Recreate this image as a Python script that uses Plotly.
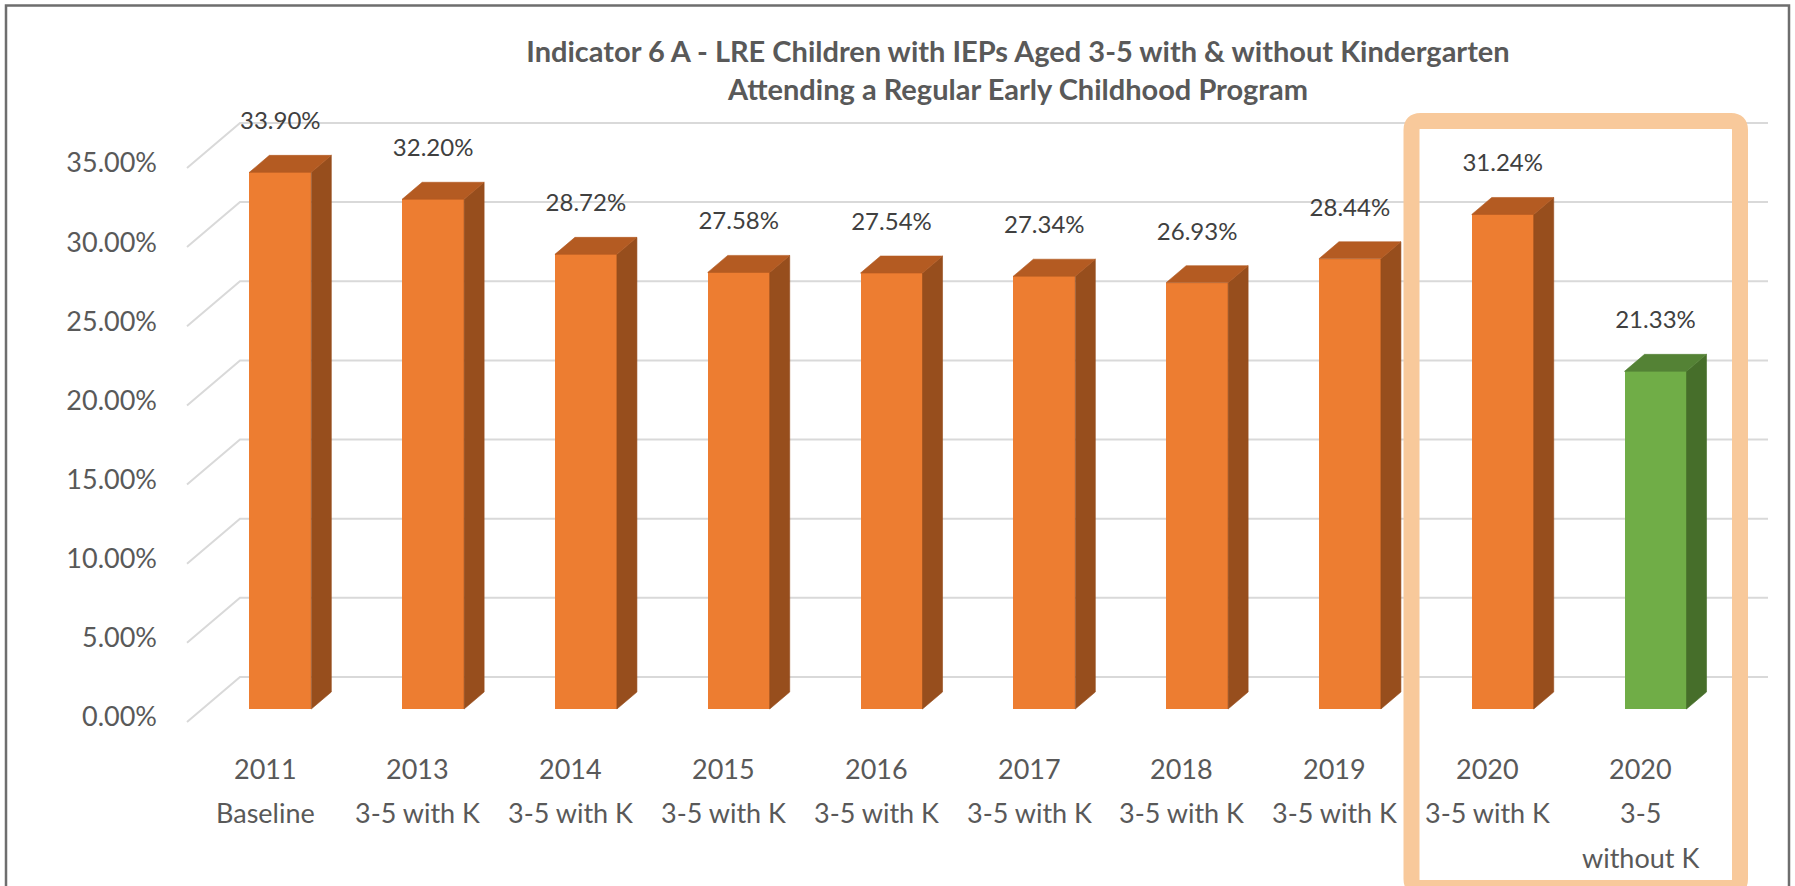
import plotly.graph_objects as go

# ---------------- data ----------------
categories = [
    "2011\nBaseline",
    "2013\n3-5 with K",
    "2014\n3-5 with K",
    "2015\n3-5 with K",
    "2016\n3-5 with K",
    "2017\n3-5 with K",
    "2018\n3-5 with K",
    "2019\n3-5 with K",
    "2020\n3-5 with K",
    "2020\n3-5\nwithout K",
]
values = [33.90, 32.20, 28.72, 27.58, 27.54, 27.34, 26.93, 28.44, 31.24, 21.33]
groups = ["with K"] * 9 + ["without K"]
y_ticks = [0, 5, 10, 15, 20, 25, 30, 35]
y_tick_labels = ["0.00%", "5.00%", "10.00%", "15.00%", "20.00%", "25.00%", "30.00%", "35.00%"]
value_labels = [f"{v:.2f}%" for v in values]
title_text = ("Indicator 6 A - LRE Children with IEPs Aged 3-5 with & without Kindergarten"
              "<br>Attending a Regular Early Childhood Program")

# ---------------- styling / layout constants ----------------
W, H = 1795, 886
ML = 175
CAT_PX = 152.8      # pixels per category
PCT_PX = 15.83      # pixels per percentage point
X0_PX = 265.0       # pixel x of first category at front floor edge
Y0_PX = 722.0       # pixel y of 0% at front floor edge

FACE = {"with K": "#ED7D31", "without K": "#70AD47"}
TOP = {"with K": "#B45B22", "without K": "#548235"}
SIDE = {"with K": "#974E1D", "without K": "#466E2A"}
TEXT = "#595959"
FONT = "Lato"

x_range = [(ML - X0_PX) / CAT_PX, (W - X0_PX) / CAT_PX]
y_range = [-(H - Y0_PX) / PCT_PX, Y0_PX / PCT_PX]


def px_x(px):
    return (px - X0_PX) / CAT_PX


def px_y(py):
    return (Y0_PX - py) / PCT_PX


def paper_x(px):
    return (px - ML) / (W - ML)


def paper_y(py):
    return 1 - py / H


# oblique depth (full floor depth) in data units
DDX = 53 / CAT_PX
DDY = 45 / PCT_PX
F1, F2 = 13 / 45, 30 / 45        # bar front / back depth fractions
HW = 31 / CAT_PX                 # half bar width
LABEL_OFF = 49 / PCT_PX

fig = go.Figure()

# ---- side and top faces ----
for g in ["with K", "without K"]:
    sx, sy, tx, ty = [], [], [], []
    for i, (v, gg) in enumerate(zip(values, groups)):
        if gg != g:
            continue
        xc = i + F1 * DDX
        xl, xr = xc - HW, xc + HW
        yb = F1 * DDY
        yt = yb + v
        ddx, ddy = (F2 - F1) * DDX, (F2 - F1) * DDY
        sx += [xr, xr + ddx, xr + ddx, xr, xr, None]
        sy += [yb, yb + ddy, yt + ddy, yt, yb, None]
        tx += [xl, xr, xr + ddx, xl + ddx, xl, None]
        ty += [yt, yt, yt + ddy, yt + ddy, yt, None]
    fig.add_trace(go.Scatter(x=sx, y=sy, mode="lines", fill="toself", fillcolor=SIDE[g],
                             line=dict(width=0.6, color=SIDE[g]), hoverinfo="skip", showlegend=False))
    fig.add_trace(go.Scatter(x=tx, y=ty, mode="lines", fill="toself", fillcolor=TOP[g],
                             line=dict(width=0.6, color=TOP[g]), hoverinfo="skip", showlegend=False))

# ---- front faces ----
fig.add_trace(go.Bar(
    x=[i + F1 * DDX for i in range(len(values))],
    y=values,
    base=F1 * DDY,
    width=2 * HW,
    marker=dict(color=[FACE[g] for g in groups], line=dict(width=0)),
    hoverinfo="skip",
    showlegend=False,
))

# ---- data labels ----
fig.add_trace(go.Scatter(
    x=[i + F1 * DDX for i in range(len(values))],
    y=[v + F1 * DDY + LABEL_OFF for v in values],
    mode="text",
    text=value_labels,
    textposition="middle center",
    textfont=dict(family=FONT, size=24, color="#404040"),
    hoverinfo="skip",
    showlegend=False,
))

# ---- category labels ----
annotations = []
for i, cat in enumerate(categories):
    for k, line in enumerate(cat.split("\n")):
        annotations.append(dict(
            x=i, y=px_y(768 + 44.5 * k), xref="x", yref="y",
            text=line, showarrow=False, xanchor="center", yanchor="middle",
            font=dict(family=FONT, size=27, color=TEXT),
        ))

shapes = []
# ---- walls: gridlines on left wall + back wall (beneath bars) ----
wall_left = px_x(187)
wall_right = px_x(1768)
for v in y_ticks:
    shapes.append(dict(
        type="path", xref="x", yref="y", layer="below",
        path=(f"M {wall_left},{v} L {wall_left + DDX},{v + DDY} "
              f"L {wall_right},{v + DDY}"),
        line=dict(color="#D9D9D9", width=2),
    ))

# ---- highlight box (rounded) ----
L, R, T, B, r = 1411.5, 1740, 121, 888, 9
box_path = (
    f"M {paper_x(L + r)},{paper_y(B)} "
    f"Q {paper_x(L)},{paper_y(B)} {paper_x(L)},{paper_y(B - r)} "
    f"L {paper_x(L)},{paper_y(T + r)} "
    f"Q {paper_x(L)},{paper_y(T)} {paper_x(L + r)},{paper_y(T)} "
    f"L {paper_x(R - r)},{paper_y(T)} "
    f"Q {paper_x(R)},{paper_y(T)} {paper_x(R)},{paper_y(T + r)} "
    f"L {paper_x(R)},{paper_y(B - r)} "
    f"Q {paper_x(R)},{paper_y(B)} {paper_x(R - r)},{paper_y(B)} Z"
)
shapes += [
    dict(type="path", path=box_path, xref="paper", yref="paper",
         line=dict(color="#F8C99B", width=16), layer="above"),
    dict(type="rect", xref="paper", yref="paper",
         x0=paper_x(6), x1=paper_x(1789), y0=paper_y(5.5), y1=paper_y(900),
         line=dict(color="#6E6E6E", width=2.5), layer="above"),
]

fig.update_layout(
    width=W, height=H,
    margin=dict(l=ML, r=0, t=0, b=0, pad=0),
    paper_bgcolor="white", plot_bgcolor="white",
    title=dict(text=title_text, x=1018 / W, xanchor="center",
               xref="container", yref="container", y=1 - 62 / H, yanchor="top",
               font=dict(family=FONT, size=29, color=TEXT, weight="bold")),
    xaxis=dict(range=x_range, visible=False, fixedrange=True),
    yaxis=dict(range=y_range, tickvals=y_ticks, ticktext=y_tick_labels,
               showgrid=False, zeroline=False, showline=False, ticks="",
               ticklabelstandoff=17, ticklabelshift=-5,
               tickfont=dict(family=FONT, size=27, color=TEXT), fixedrange=True),
    annotations=annotations,
    shapes=shapes,
    bargap=0,
    showlegend=False,
)

fig.write_html("out.html")
